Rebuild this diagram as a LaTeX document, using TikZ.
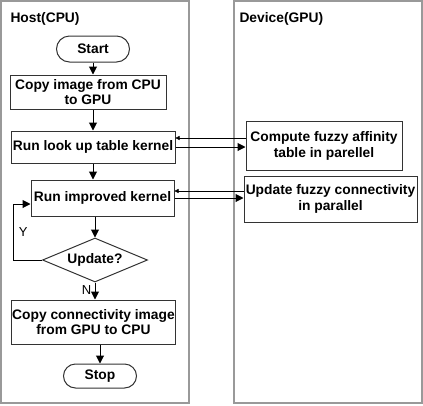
\documentclass[tikz,border=0pt]{standalone}
\usepackage{fontspec}
\setmainfont{Liberation Sans}
\usetikzlibrary{arrows.meta,shapes.geometric,shapes.misc}

\tikzset{
    panel/.style={draw=black!40,line width=1.2pt},
    stepbox/.style={draw=black!80,line width=1pt,rectangle,align=center,
        font=\fontsize{13.8}{15.5}\selectfont\bfseries,inner sep=1pt},
    terminal/.style={draw=black!80,line width=1pt,rounded rectangle,
        font=\fontsize{13.8}{15.5}\selectfont\bfseries,inner sep=1pt},
    decide/.style={draw=black!80,line width=1pt,diamond,aspect=2.4,
        font=\fontsize{13.8}{15.5}\selectfont\bfseries,inner sep=1pt},
    flow/.style={line width=1pt,-{Triangle[length=8pt,width=8pt]}},
    backflow/.style={line width=0.5pt,-{Triangle[length=4pt,width=4pt]}},
    lane/.style={font=\fontsize{13.8}{15.5}\selectfont\bfseries,anchor=west},
    tag/.style={font=\fontsize{13}{15}\selectfont}
}

\begin{document}
\begin{tikzpicture}[x=1pt,y=-1pt]
        \useasboundingbox (0,0) rectangle (423,405);
        %% Lanes
        \draw[panel] (1,1) rectangle (189,403);
        \draw[panel] (234,1) rectangle (422,403);
        \node[lane] (host) at (7,19) {Host(CPU)};
        \node[lane] (device) at (236,19) {Device(GPU)};
        %% Host steps
        \node[terminal,minimum width=75pt,minimum height=26pt] (start) at (93,49) {Start};
        \node[stepbox,minimum width=156pt,minimum height=34pt] (copyin) at (88,92)
            {Copy image from CPU\\to GPU};
        \node[stepbox,minimum width=164pt,minimum height=32pt] (lut) at (93,147)
            {Run look up table kernel};
        \node[stepbox,minimum width=143pt,minimum height=36pt] (improved) at (102.5,198)
            {Run improved kernel};
        \node[decide,minimum width=105pt,minimum height=44pt] (update) at (95,260) {Update?};
        \node[stepbox,minimum width=161pt,minimum height=44pt] (copyout) at (93.5,322)
            {Copy connectivity image\\from GPU to CPU};
        \node[terminal,minimum width=75pt,minimum height=24pt] (stop) at (100,376) {Stop};
        %% Device steps
        \node[stepbox,minimum width=156pt,minimum height=49pt] (affinity) at (324,146)
            {Compute fuzzy affinity\\table in parellel};
        \node[stepbox,minimum width=173pt,minimum height=46pt] (connect) at (330.5,199)
            {Update fuzzy connectivity\\in parallel};
        %% Host flow
        \draw[flow] (start.south) -- (start.south |- copyin.north);
        \draw[flow] (start.south |- copyin.south) -- (lut.north -| start.south);
        \draw[flow] (lut.south) -- (lut.south |- improved.north);
        \draw[flow] (update.north |- improved.south) -- (update.north);
        \draw[flow] (update.south) -- (update.south |- copyout.north)
            node[tag,pos=0.45,anchor=east] {N};
        \draw[flow] (stop.north |- copyout.south) -- (stop.north);
        \draw[flow] (update.west) -- ++(-29,0) |- ([yshift=-6pt]improved.west)
            node[tag,pos=0.25,anchor=west,xshift=2pt] {Y};
        %% Host <-> device
        \draw[backflow] ([yshift=8pt]affinity.west) -- ([yshift=8pt]affinity.west -| lut.east);
        \draw[flow] (lut.east) -- (lut.east -| affinity.west);
        \draw[backflow] ([yshift=8pt]connect.west) -- ([yshift=8pt]connect.west -| improved.east);
        \draw[flow] (improved.east) -- (improved.east -| connect.west);
\end{tikzpicture}
\end{document}
